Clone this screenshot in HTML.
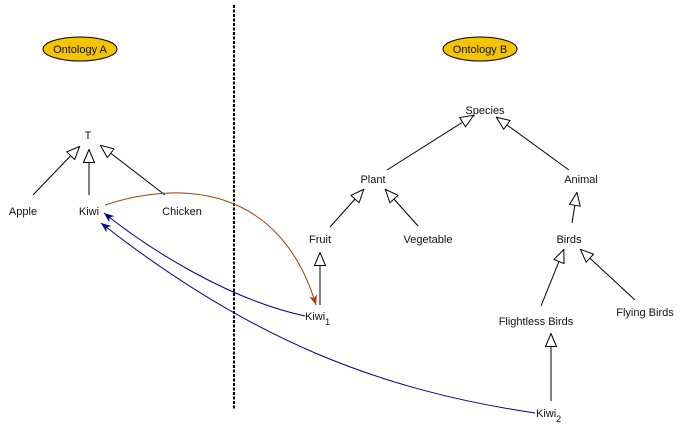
<!DOCTYPE html>
<html><head><style>body{margin:0;background:#fff}svg{display:block}text{font-family:"Liberation Sans",sans-serif;font-size:11px;fill:#111}</style></head><body>
<svg width="684" height="436" viewBox="0 0 684 436">
<defs>
<marker id="h" viewBox="0 0 14 12" refX="14" refY="6" markerWidth="14" markerHeight="12" markerUnits="userSpaceOnUse" orient="auto"><path d="M0.5,0.5 L13.5,6 L0.5,11.5 Z" fill="#fff" stroke="#000"/></marker>
<marker id="b" viewBox="0 0 10 8" refX="10" refY="4" markerWidth="10" markerHeight="8" markerUnits="userSpaceOnUse" orient="auto"><path d="M0,0 L10,4 L0,8 L3,4 Z" fill="#000080"/></marker>
<marker id="r" viewBox="0 0 10 8" refX="10" refY="4" markerWidth="10" markerHeight="8" markerUnits="userSpaceOnUse" orient="auto"><path d="M0,0 L10,4 L0,8 L3,4 Z" fill="#a0400a"/></marker>
</defs>
<line x1="234" y1="5" x2="234" y2="410" stroke="#000" stroke-width="2" stroke-dasharray="3,1.5"/>
<ellipse cx="80" cy="49" rx="37" ry="12" fill="#f5c400" stroke="#000"/>
<text x="80" y="53" text-anchor="middle">Ontology A</text>
<ellipse cx="480" cy="49" rx="37" ry="12" fill="#f5c400" stroke="#000"/>
<text x="480" y="53" text-anchor="middle">Ontology B</text>
<g stroke="#000" fill="none" marker-end="url(#h)">
<line x1="33" y1="195" x2="80" y2="146"/>
<line x1="89" y1="195" x2="89" y2="149"/>
<line x1="165" y1="195" x2="100" y2="145"/>
<line x1="387" y1="170" x2="474" y2="115"/>
<line x1="569" y1="170" x2="496" y2="117"/>
<line x1="330" y1="227" x2="364" y2="189"/>
<line x1="418" y1="226" x2="385" y2="189"/>
<line x1="572" y1="223" x2="577" y2="192"/>
<line x1="541" y1="306" x2="564" y2="249"/>
<line x1="635" y1="300" x2="580" y2="249"/>
<line x1="320" y1="305" x2="320" y2="252"/>
<line x1="551" y1="401" x2="551" y2="333"/>
</g>
<path d="M105,205 C180,180 280,185 316,305" stroke="#a0400a" fill="none" marker-end="url(#r)"/>
<path d="M305,316 C230,300 150,250 104,213" stroke="#000080" fill="none" marker-end="url(#b)"/>
<path d="M535,413 C380,390 250,340 101,223" stroke="#000080" fill="none" marker-end="url(#b)"/>
<text x="88" y="139" text-anchor="middle" font-size="9">T</text>
<text x="23" y="215" text-anchor="middle">Apple</text>
<text x="89" y="215" text-anchor="middle">Kiwi</text>
<text x="182" y="215" text-anchor="middle">Chicken</text>
<text x="485" y="114" text-anchor="middle">Species</text>
<text x="373" y="183" text-anchor="middle">Plant</text>
<text x="581" y="183" text-anchor="middle">Animal</text>
<text x="320" y="243" text-anchor="middle">Fruit</text>
<text x="428" y="243" text-anchor="middle">Vegetable</text>
<text x="569" y="243" text-anchor="middle">Birds</text>
<text x="536" y="325" text-anchor="middle">Flightless Birds</text>
<text x="645" y="316" text-anchor="middle">Flying Birds</text>
<text x="305" y="320">Kiwi<tspan font-size="9" dy="5">1</tspan></text>
<text x="536" y="417">Kiwi<tspan font-size="9" dy="5">2</tspan></text>
</svg>
</body></html>
